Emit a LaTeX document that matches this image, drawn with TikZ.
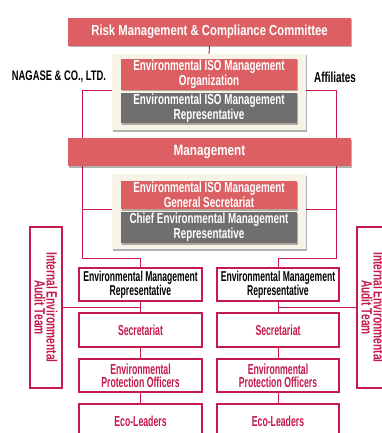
\documentclass[tikz,border=0pt]{standalone}
\usepackage{fontspec}
\setmainfont{Liberation Sans}[FakeStretch=0.68]
\newfontfamily\fA{Liberation Sans}[FakeStretch=0.60]
\newfontfamily\fB{Liberation Sans}[FakeStretch=0.68]
\newfontfamily\fC{Liberation Sans}[FakeStretch=0.78]
\usetikzlibrary{shadows}
\definecolor{boxred}{HTML}{DB5F63}
\definecolor{boxgray}{HTML}{6F6F6F}
\definecolor{panelbg}{HTML}{F8F3E7}
\definecolor{crim}{HTML}{C51A4C}
\pgfdeclarelayer{bg}
\pgfsetlayers{bg,main}
\begin{document}
\begin{tikzpicture}[x=1pt,y=-1pt,
  every node/.style={inner sep=0pt,outer sep=0pt,align=center},
  shad/.style={drop shadow={shadow xshift=1pt,shadow yshift=-1.5pt,opacity=0.3,fill=black}},
  redbox/.style={fill=boxred,text=white,shad,font=\fB\fontsize{14.5}{12.5}\selectfont\bfseries},
  graybox/.style={fill=boxgray,text=white,shad,font=\fB\fontsize{14.5}{12.5}\selectfont\bfseries},
  titlebox/.style={fill=boxred,text=white,shad,minimum width=283pt,minimum height=28pt,font=\fC\fontsize{14.5}{15}\selectfont\bfseries},
  panelbox/.style={fill=panelbg,shad},
  wbox/.style={draw=crim,line width=1.1pt,fill=white,minimum width=123pt,minimum height=33pt},
  redtxt/.style={text=crim,font=\fA\fontsize{14.5}{13}\selectfont\bfseries},
  blktxt/.style={text=black,font=\fA\fontsize{14.3}{13}\selectfont\bfseries},
  audittxt/.style={text=crim,font=\fB\fontsize{15}{12}\selectfont\bfseries},
  auditbox/.style={draw=crim,line width=1.1pt,fill=white,minimum width=161pt,minimum height=32pt,rotate=-90},
  conn/.style={draw=crim,line width=0.9pt},
  lbl/.style={text=black,font=\fB\fontsize{13.8}{14}\selectfont\bfseries}]
\useasboundingbox (0,0) rectangle (382,433);
\clip (0,0) rectangle (382,433);

% top
\node[titlebox] (risk) at (209.5,32) {Risk Management \& Compliance Committee};
\node[panelbox,minimum width=194pt,minimum height=76pt] (panel1) at (209,92) {};
\node[redbox,minimum width=176pt,minimum height=31pt] (org) at (209,74.5) {Environmental ISO Management\\Organization};
\node[graybox,minimum width=176pt,minimum height=30pt] (rep1) at (209,108) {Environmental ISO Management\\Representative};
\node[lbl] (nagase) at (59,77) {NAGASE \& CO., LTD.};
\node[lbl,font=\fB\fontsize{14.5}{14}\selectfont\bfseries] (affil) at (335,77) {Affiliates};

% management
\node[titlebox,font=\fC\fontsize{15}{15}\selectfont\bfseries] (mgmt) at (209.5,152) {Management};
\node[panelbox,minimum width=194pt,minimum height=75pt] (panel2) at (209,211.5) {};
\node[redbox,minimum width=176pt,minimum height=28pt] (gensec) at (209,195) {Environmental ISO Management\\General Secretariat};
\node[graybox,minimum width=176pt,minimum height=31pt] (chief) at (209,227.5) {Chief Environmental Management\\Representative};

% left column
\node[wbox,blktxt] (emrL) at (140.5,284.5) {Environmental Management\\Representative};
\node[wbox,redtxt,minimum height=34pt] (secL) at (140.5,330) {Secretariat};
\node[wbox,redtxt] (epoL) at (140.5,375.5) {Environmental\\Protection Officers};
\node[wbox,redtxt,minimum height=34pt] (ecoL) at (140.5,421) {Eco-Leaders};

% right column
\node[wbox,blktxt,minimum width=122pt] (emrR) at (278,284.5) {Environmental Management\\Representative};
\node[wbox,redtxt,minimum width=122pt,minimum height=34pt] (secR) at (278,330) {Secretariat};
\node[wbox,redtxt,minimum width=122pt] (epoR) at (278,375.5) {Environmental\\Protection Officers};
\node[wbox,redtxt,minimum width=122pt,minimum height=34pt] (ecoR) at (278,421) {Eco-Leaders};

% audit teams
\node[auditbox,audittxt] (auditL) at (46,307.5) {Internal Environmental\\Audit Team};
\node[auditbox,audittxt] (auditR) at (373,307.5) {Internal Environmental\\Audit Team};

\coordinate (lbend) at (82,258);
\coordinate (rbend) at (336,258);

\begin{pgfonlayer}{bg}
\draw[conn] (risk.south) -- (panel1.north);
\draw[conn] (org.south -| panel1.west) -| (lbend) -| (emrL.north);
\draw[conn] (org.south -| panel1.east) -| (rbend) -| (emrR.north);
\draw[conn] (gensec.south -| lbend) -- (gensec.south -| panel2.west);
\draw[conn] (gensec.south -| rbend) -- (gensec.south -| panel2.east);
\draw[conn] (emrL.south) -- (secL.north);
\draw[conn] (secL.south) -- (epoL.north);
\draw[conn] (epoL.south) -- (ecoL.north);
\draw[conn] (emrR.south) -- (secR.north);
\draw[conn] (secR.south) -- (epoR.north);
\draw[conn] (epoR.south) -- (ecoR.north);
\draw[conn] (auditL.south) -- (auditL.south -| emrL.south);
\draw[conn] (auditR.north) -- (auditR.north -| emrR.south);
\end{pgfonlayer}
\end{tikzpicture}
\end{document}
